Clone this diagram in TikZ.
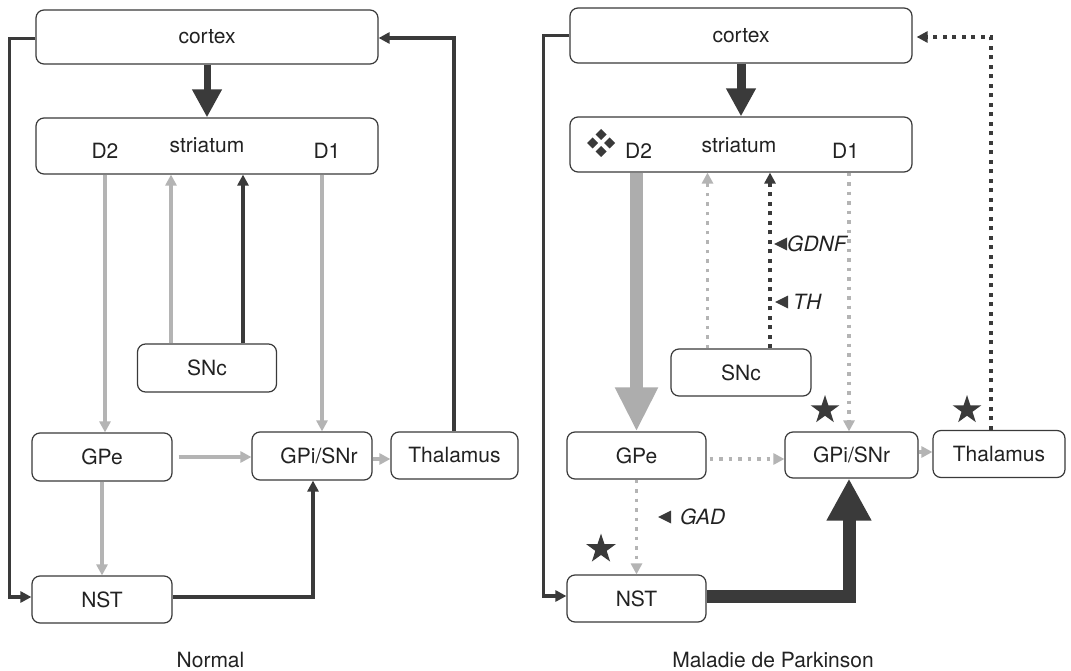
\documentclass[tikz,border=0pt]{standalone}
\usepackage{fontspec}
\setmainfont{TeX Gyre Heros}
\usetikzlibrary{arrows.meta,shapes.geometric}
\definecolor{ink}{HTML}{3A3A3A}
\definecolor{pale}{HTML}{B4B4B4}
\definecolor{palebig}{HTML}{ADADAD}
\definecolor{txt}{HTML}{222222}
\newcommand\labfont{\fontsize{21}{25}\selectfont}
\begin{document}
\begin{tikzpicture}[x=1pt,y=-1pt,
  box/.style={draw=ink, line width=1.2pt, rounded corners=8pt, fill=white,
    inner sep=0pt, text=txt, font=\labfont},
  lab/.style={inner sep=0pt, text=txt, font=\labfont},
  itlab/.style={lab, font=\labfont\itshape, anchor=west},
  headed/.style={-{Triangle[length=11pt,width=11pt]}},
  dk/.style={draw=ink, line width=3.2pt, headed},
  gr/.style={draw=pale, line width=3.2pt, headed},
  dkdot/.style={dk, line width=4pt, dash pattern=on 4pt off 5.5pt},
  grdot/.style={gr, line width=3.5pt, dash pattern=on 3.5pt off 6pt},
  bigdk/.style={draw=ink, line width=7pt, -{Triangle[length=28pt,width=28pt]}},
  biggr/.style={draw=palebig, line width=13pt, -{Triangle[length=44pt,width=40pt]}},
  bigdkb/.style={draw=ink, line width=13pt, line join=miter, -{Triangle[length=42pt,width=42pt]}},
  mark star/.style={star, star points=5, star point ratio=2.6, fill=ink,
    inner sep=0pt, minimum size=30pt},
]
\useasboundingbox[fill=white] (0,0) rectangle (1071,671);

% ---------------- normal circuit ----------------
\node[box, minimum width=342pt, minimum height=54pt] (cortexL) at (207,37) {cortex};
\node[box, minimum width=342pt, minimum height=56pt] (striatumL) at (207,146) {};
\node[lab] (strL) at (207,145) {striatum};
\node[lab] (D2L) at (105,151) {D2};
\node[lab] (D1L) at (327,151) {D1};
\node[box, minimum width=139pt, minimum height=48pt] (SNcL) at (207,368) {SNc};
\node[box, minimum width=140pt, minimum height=48pt] (GPeL) at (102,457) {GPe};
\node[box, minimum width=120pt, minimum height=48pt] (GPiL) at (312,456) {\hspace{14pt}GPi/SNr};
\node[box, minimum width=127pt, minimum height=47pt] (ThalL) at (454.5,455.5) {Thalamus};
\node[box, minimum width=140pt, minimum height=47pt] (NSTL) at (102,599.5) {NST};
\node[lab] (normal) at (210.5,659.5) {Normal};

\path ([xshift=-36pt]SNcL.north) coordinate (snLa)
      ([xshift=36pt]SNcL.north) coordinate (snLb)
      ([xshift=10pt]GPiL.north) coordinate (gpLin)
      ([xshift=1pt]GPiL.south) coordinate (gpLout)
      ([yshift=-3pt]GPiL.east) coordinate (gpLr)
      ([xshift=6pt]GPeL.east) coordinate (gpeLr);

\draw[bigdk] (cortexL.south) -- (striatumL.north);
\draw[dk] ([yshift=-1.5pt]cortexL.west) -- ++(-26.3,0) |- ([yshift=2.5pt]NSTL.west);
\draw[dk] ([xshift=-0.5pt]ThalL.north) |- ([yshift=-1pt]cortexL.east);
\draw[gr] (D2L.south |- striatumL.south) -- (D2L.south |- GPeL.north);
\draw[gr] (snLa) -- (snLa |- striatumL.south);
\draw[dk] (snLb) -- (snLb |- striatumL.south);
\draw[gr] (gpLin |- striatumL.south) -- (gpLin);
\draw[gr] (gpeLr) -- (gpeLr -| GPiL.west);
\draw[gr] (gpLr) -- (gpLr -| ThalL.west);
\draw[gr] (GPeL.south) -- (NSTL.north);
\draw[dk] ([yshift=2.5pt]NSTL.east) -| (gpLout);

% ---------------- Parkinson circuit ----------------
\node[box, minimum width=342pt, minimum height=55pt] (cortexR) at (741,35.5) {cortex};
\node[box, minimum width=342pt, minimum height=55pt] (striatumR) at (741,144.5) {};
\node[lab] (strR) at (739,145) {striatum};
\node[lab] (D2R) at (638.6,151) {D2};
\node[lab] (D1R) at (845.5,151) {D1};
\node[box, minimum width=140pt, minimum height=47pt] (SNcR) at (741,372.5) {SNc};
\node[box, minimum width=139pt, minimum height=47pt] (GPeR) at (636.5,455.5) {GPe};
\node[box, minimum width=133pt, minimum height=46pt] (GPiR) at (851.5,455) {GPi/SNr};
\node[box, minimum width=132pt, minimum height=47pt] (ThalR) at (999,454) {Thalamus};
\node[box, minimum width=139pt, minimum height=47pt] (NSTR) at (636.5,598.5) {NST};
\node[lab] (park) at (773,659.5) {Maladie de Parkinson};

\path ([xshift=-33.5pt]SNcR.north) coordinate (snRa)
      ([xshift=29pt]SNcR.north) coordinate (snRb)
      ([xshift=-2.5pt]GPiR.north) coordinate (gpRin)
      ([xshift=-2.5pt]GPiR.south) coordinate (gpRout)
      ([yshift=3pt]GPiR.east) coordinate (gpRr)
      ([xshift=3pt,yshift=-3.5pt]GPeR.east) coordinate (gpeRr)
      ([xshift=-8pt]ThalR.north) coordinate (thRout);

\draw[bigdk, line width=9pt] (cortexR.south) -- (striatumR.north);
\draw[dk] (cortexR.west) -- ++(-26,0) |- ([yshift=2.5pt]NSTR.west);
\draw[dkdot, shorten >=4pt] (thRout) |- ([yshift=-1.5pt]cortexR.east);
\draw[biggr] (GPeR.north |- striatumR.south) -- (GPeR.north);
\draw[grdot] (snRa) -- (snRa |- striatumR.south);
\draw[dkdot] (snRb) -- (snRb |- striatumR.south);
\draw[grdot] (gpRin |- striatumR.south) -- (gpRin);
\draw[grdot] (gpeRr) -- (gpeRr -| GPiR.west);
\draw[gr] (gpRr) -- (gpRr -| ThalR.west);
\draw[grdot] (GPeR.south) -- (NSTR.north);
\draw[bigdkb] ([yshift=2.5pt]NSTR.east) -| (gpRout);

% gene labels with pointers
\node[itlab, fill=white, inner ysep=10pt] (gdnf) at (787,244) {GDNF\hspace{5pt}};
\node[itlab] (th) at (793,302) {TH};
\node[itlab] (gad) at (680,517) {GAD};
\fill[ink] (gdnf.west) ++(-13,0) -- ++(13,-6.5) -- ++(0,13) -- cycle;
\fill[ink] (th.west) ++(-18,0) -- ++(13,-6.5) -- ++(0,13) -- cycle;
\fill[ink] (gad.west) ++(-22,0) -- ++(13,-6.5) -- ++(0,13) -- cycle;

% receptor marker and stars
\foreach \dx/\dy in {0/-8.5,-8.5/0,8.5/0,0/8.5}
  \fill[ink] ({601+\dx},{143+\dy}) +(0,-5.5) -- +(5.5,0) -- +(0,5.5) -- +(-5.5,0) -- cycle;
\node[mark star] (starGPi) at (825,410) {};
\node[mark star] (starThal) at (967,410) {};
\node[mark star, minimum size=31pt] (starNST) at (601,549) {};
\end{tikzpicture}
\end{document}
